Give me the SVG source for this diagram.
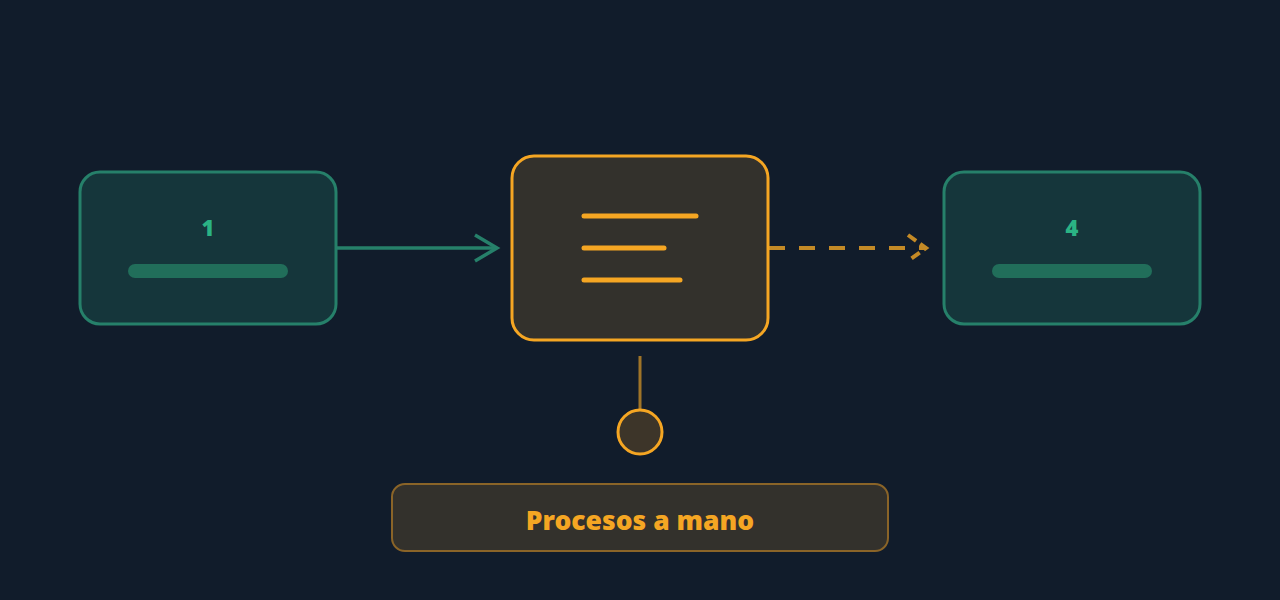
<svg xmlns="http://www.w3.org/2000/svg" width="1280" height="600" viewBox="0 0 1280 600">
<defs>
<style>
.gnode{fill:#15363b;stroke:#26806a;stroke-width:3}
.gbar{fill:#216e5a}
.gtxt{font-family:"Noto Sans","Open Sans",sans-serif;font-weight:900;font-size:22px;fill:#2bb384;text-anchor:middle}
.line{stroke:#f5a623;stroke-width:5;stroke-linecap:round}
</style>
<marker id="gArrow" markerWidth="30" markerHeight="30" refX="24" refY="15" orient="auto" markerUnits="userSpaceOnUse">
<path d="M2,2 L24,15 L2,28" fill="none" stroke="#26806a" stroke-width="3.5"/>
</marker>
</defs>
<rect width="1280" height="600" fill="#111c2b"/>
<g id="connectors">
<line x1="336" y1="248" x2="497" y2="248" stroke="#26806a" stroke-width="3.5" marker-end="url(#gArrow)"/>
<line x1="769" y1="248" x2="926" y2="248" stroke="#c48a26" stroke-width="4" stroke-dasharray="16 14"/>
<path d="M908,235 L926,248 L908,261" fill="none" stroke="#c48a26" stroke-width="4" stroke-dasharray="10 5"/>
<line x1="640" y1="356" x2="640" y2="409" stroke="#a07428" stroke-width="3"/>
</g>
<g id="node1">
<rect class="gnode" x="80" y="172" width="256" height="152" rx="20"/>
<text class="gtxt" x="208" y="236">1</text>
<rect class="gbar" x="128" y="264" width="160" height="14" rx="7"/>
</g>
<g id="node2">
<rect x="512" y="156" width="256" height="184" rx="22" fill="#33312c" stroke="#f5a623" stroke-width="3"/>
<line class="line" x1="584" y1="216" x2="696" y2="216"/>
<line class="line" x1="584" y1="248" x2="664" y2="248"/>
<line class="line" x1="584" y1="280" x2="680" y2="280"/>
</g>
<g id="node4">
<rect class="gnode" x="944" y="172" width="256" height="152" rx="20"/>
<text class="gtxt" x="1072" y="236">4</text>
<rect class="gbar" x="992" y="264" width="160" height="14" rx="7"/>
</g>
<g id="circle">
<circle cx="640" cy="432" r="22" fill="#3d3529" stroke="#f5a623" stroke-width="3"/>
</g>
<g id="label">
<rect x="392" y="484" width="496" height="67" rx="13" fill="#33312c" stroke="#8a6428" stroke-width="2"/>
<text x="640" y="530" font-family="Noto Sans, Open Sans, sans-serif" font-weight="900" font-size="26.5" fill="#f5a623" text-anchor="middle">Procesos a mano</text>
</g>
</svg>
